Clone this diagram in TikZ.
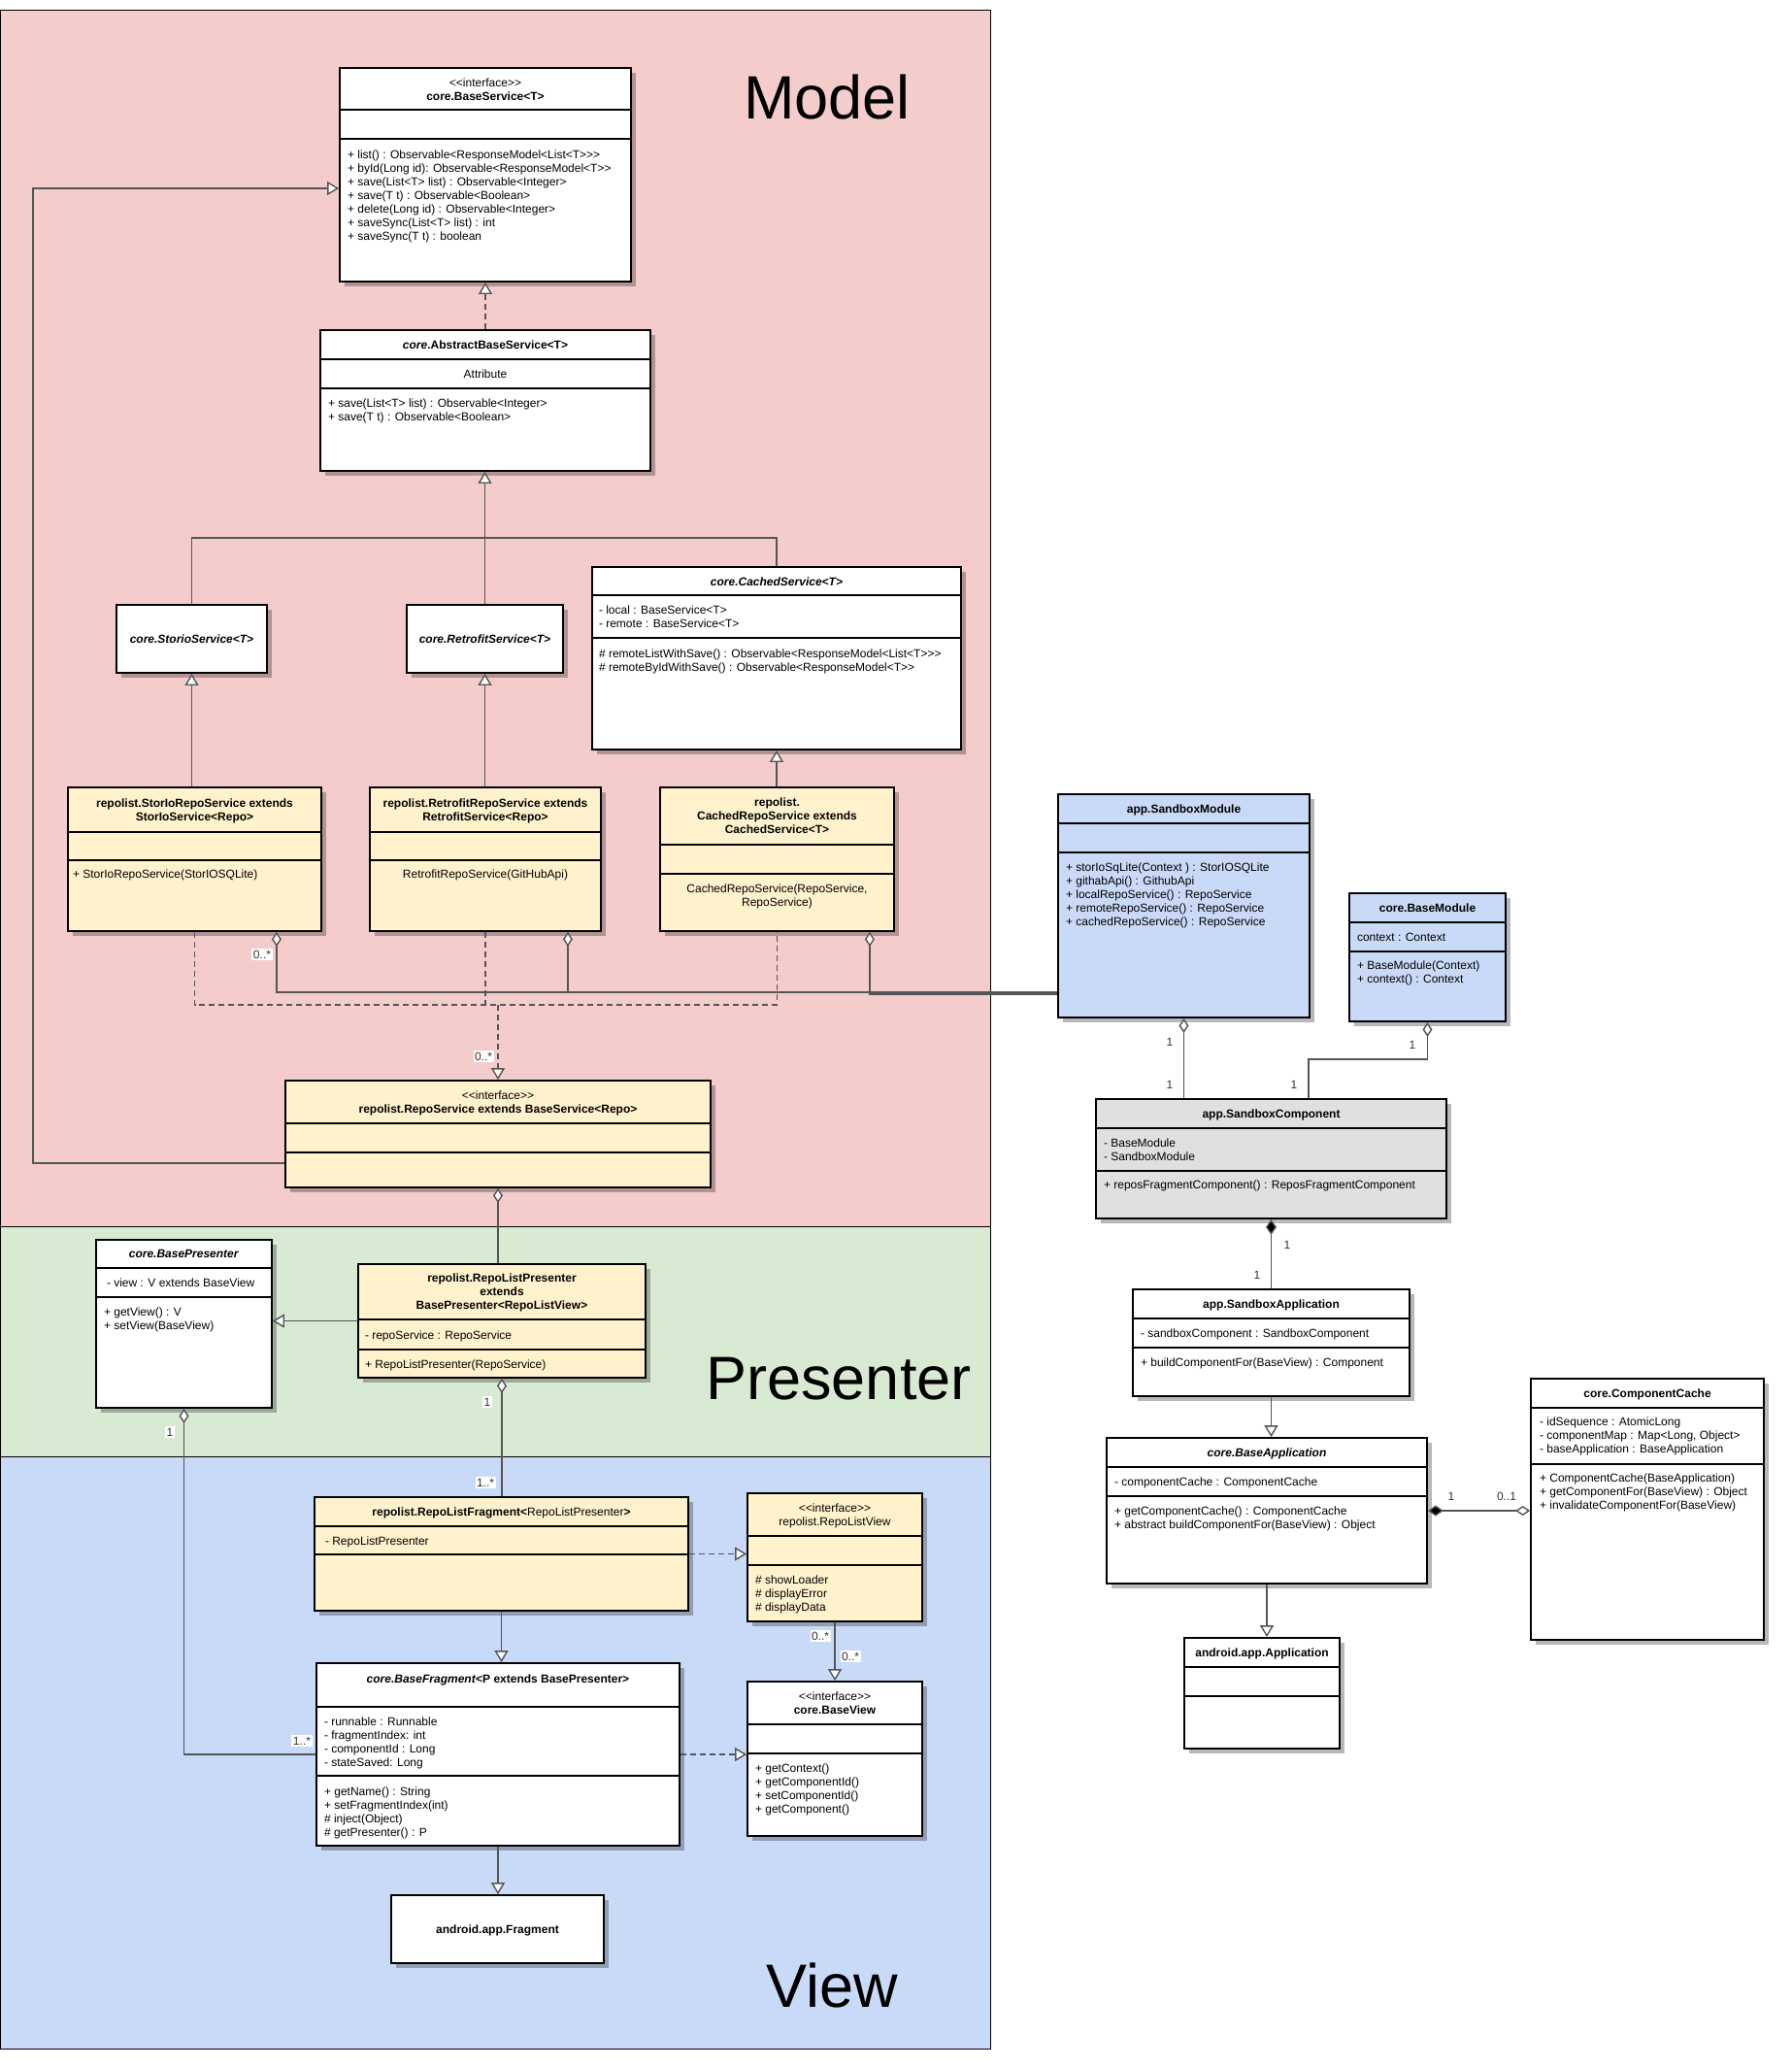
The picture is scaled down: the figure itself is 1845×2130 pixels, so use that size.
\documentclass[tikz,border=0pt]{standalone}
\usepackage{fontspec}
\setmainfont{Liberation Sans}
\usetikzlibrary{arrows.meta}
\definecolor{pinkbg}{HTML}{F4CCCC}
\definecolor{greenbg}{HTML}{D9EAD3}
\definecolor{bluebg}{HTML}{C9DAF8}
\definecolor{yellowc}{HTML}{FFF2CC}
\definecolor{greyc}{HTML}{E0E0E0}
\definecolor{linec}{HTML}{555555}
\definecolor{multc}{HTML}{333333}
\newcommand\clines[1]{\vtop{\baselineskip=14pt\lineskiplimit=-20pt\lineskip=0pt\halign{\hfil##\hfil\cr#1\crcr}}}
\newcommand\llines[1]{\vtop{\baselineskip=14pt\lineskiplimit=-20pt\lineskip=0pt\halign{##\hfil\cr#1\crcr}}}
\newcommand\umlbox[6]{%
  \fill[shadowc] ({#2+5},{#3+5}) rectangle ({#4+5},{#5+5});
  \node[cbox, fill=#6, minimum width={#4-#2}, minimum height={#5-#3}] (#1) at ({(#2+#4)/2},{(#3+#5)/2}) {};}
\newcommand\umlseps[3]{\foreach \s in {#3} {\draw[sepline] (#1,\s) -- (#2,\s);}}
\newcommand\uctext[4]{\node[txt, anchor=base] (#1) at (#2,{#3+4.3}) {\clines{#4}};}
\newcommand\ultext[4]{\node[txt, anchor=base west] (#1) at (#2,{#3+4.3}) {\llines{#4}};}
\tikzset{
  shadowc/.style={fill=black, fill opacity=0.28},
  cbox/.style={draw=black, line width=1.8pt, inner sep=0pt},
  sepline/.style={draw=black, line width=1.8pt},
  txt/.style={font=\fontsize{12}{14}\selectfont, inner sep=0pt, outer sep=0pt},
  biglbl/.style={font=\fontsize{63}{70}\selectfont, inner sep=0pt},
  regline/.style={draw=black, line width=1pt},
  conn/.style={draw=linec, line width=1.4pt},
  gen/.style={conn, -{Triangle[fill=white, length=12pt, width=14pt]}},
  realiz/.style={conn, dash pattern=on 6pt off 4pt},
  realarr/.style={realiz, -{Triangle[fill=white, length=12pt, width=14pt]}},
  agg/.style={conn, {Diamond[fill=white, length=15pt, width=10pt]}-},
  comp/.style={conn, {Diamond[fill=black, length=16pt, width=11pt]}-},
  compagg/.style={conn, {Diamond[fill=black, length=16pt, width=11pt]}-{Diamond[fill=white, length=15pt, width=10pt]}},
  mult/.style={font=\fontsize{12}{14}\selectfont, text=multc, inner sep=1.5pt},
  multw/.style={mult, fill=white}
}
\begin{document}
\begin{tikzpicture}[x=1pt,y=-1pt]
\useasboundingbox (0,0) rectangle (1845,2130);
\fill[white] (0,0) rectangle (1845,2130);
% regions
\fill[pinkbg] (0,11) rectangle (1020,1263);
\fill[greenbg] (0,1263) rectangle (1020,1500);
\fill[bluebg] (0,1500) rectangle (1020,2110);
\draw[regline] (0.5,11) rectangle (1020,2110);
\draw[regline] (0,1263) -- (1020,1263);
\draw[regline] (0,1500) -- (1020,1500);
\node[biglbl] (lblmodel) at (852,100) {Model};
\node[biglbl] (lblpres) at (864,1420) {Presenter};
\node[biglbl] (lblview) at (857,2045) {View};

% ---------- Model ----------
\umlbox{bs}{350}{70}{650}{290}{white}
\umlseps{350}{650}{113,143}
\uctext{bs-t}{500}{85}{<{}<interface>{}>\cr \textbf{core.BaseService<T>}}
\ultext{bs-o}{358}{159}{+ list() : Observable<ResponseModel<List<T>{}>{}>\cr + byId(Long id): Observable<ResponseModel<T>{}>\cr + save(List<T> list) : Observable<Integer>\cr + save(T t) : Observable<Boolean>\cr + delete(Long id) : Observable<Integer>\cr + saveSync(List<T> list) : int\cr + saveSync(T t) : boolean}

\umlbox{abs}{330}{340}{670}{485}{white}
\umlseps{330}{670}{370,400}
\uctext{abs-t}{500}{355}{\textbf{\textit{core}.AbstractBaseService<T>}}
\uctext{abs-a}{500}{385}{Attribute}
\ultext{abs-o}{338}{415}{+ save(List<T> list) : Observable<Integer>\cr + save(T t) : Observable<Boolean>}

\umlbox{sio}{120}{623}{275}{693}{white}
\uctext{sio-t}{197.5}{658}{\textbf{\textit{core.StorioService<T>}}}
\umlbox{rs}{419}{623}{580}{693}{white}
\uctext{rs-t}{499.5}{658}{\textbf{\textit{core.RetrofitService<T>}}}

\umlbox{cs}{610}{584}{990}{772}{white}
\umlseps{610}{990}{613,657}
\uctext{cs-t}{800}{599}{\textbf{\textit{core.CachedService<T>}}}
\ultext{cs-a}{617}{628}{- local : BaseService<T>\cr - remote : BaseService<T>}
\ultext{cs-o}{617}{673}{\# remoteListWithSave() : Observable<ResponseModel<List<T>{}>{}>\cr \# remoteByIdWithSave() : Observable<ResponseModel<T>{}>}

\umlbox{sirepo}{70}{811}{331}{959}{yellowc}
\umlseps{70}{331}{857,886}
\uctext{sirepo-t}{200.5}{827}{\textbf{repolist.StorIoRepoService extends}\cr \textbf{StorIoService<Repo>}}
\ultext{sirepo-o}{75}{900}{+ StorIoRepoService(StorIOSQLite)}

\umlbox{rrepo}{381}{811}{619}{959}{yellowc}
\umlseps{381}{619}{857,886}
\uctext{rrepo-t}{500}{827}{\textbf{repolist.RetrofitRepoService extends}\cr \textbf{RetrofitService<Repo>}}
\uctext{rrepo-o}{500}{900}{RetrofitRepoService(GitHubApi)}

\umlbox{crepo}{680}{811}{921}{959}{yellowc}
\umlseps{680}{921}{870,900}
\uctext{crepo-t}{800.5}{826}{\textbf{repolist.}\cr \textbf{CachedRepoService extends}\cr \textbf{CachedService<T>}}
\uctext{crepo-o}{800.5}{915}{CachedRepoService(RepoService,\cr RepoService)}

\umlbox{rsvc}{294}{1113}{732}{1223}{yellowc}
\umlseps{294}{732}{1157,1187}
\uctext{rsvc-t}{513}{1128}{<{}<interface>{}>\cr \textbf{repolist.RepoService extends BaseService<Repo>}}

% ---------- Presenter ----------
\umlbox{bp}{99}{1277}{280}{1450}{white}
\umlseps{99}{280}{1306,1336}
\uctext{bp-t}{189.5}{1291}{\textbf{\textit{core.BasePresenter}}}
\ultext{bp-a}{110}{1321}{- view : V extends BaseView}
\ultext{bp-o}{107}{1351}{+ getView() : V\cr + setView(BaseView)}

\umlbox{rlp}{369}{1302}{665}{1419}{yellowc}
\umlseps{369}{665}{1359,1390}
\uctext{rlp-t}{517}{1316}{\textbf{repolist.RepoListPresenter}\cr \textbf{extends}\cr \textbf{BasePresenter<RepoListView>}}
\ultext{rlp-a}{376}{1375}{- repoService : RepoService}
\ultext{rlp-o}{376}{1405}{+ RepoListPresenter(RepoService)}

% ---------- View ----------
\umlbox{rlf}{324}{1542}{709}{1659}{yellowc}
\umlseps{324}{709}{1572,1601}
\uctext{rlf-t}{516.5}{1557}{\textbf{repolist.RepoListFragment<}RepoListPresenter\textbf{>}}
\ultext{rlf-a}{335}{1587}{- RepoListPresenter}

\umlbox{rlv}{770}{1538}{950}{1670}{yellowc}
\umlseps{770}{950}{1582,1612}
\uctext{rlv-t}{860}{1553}{<{}<interface>{}>\cr repolist.RepoListView}
\ultext{rlv-o}{778}{1627}{\# showLoader\cr \# displayError\cr \# displayData}

\umlbox{bf}{326}{1713}{700}{1901}{white}
\umlseps{326}{700}{1758,1829}
\uctext{bf-t}{513}{1729}{\textbf{\textit{core.BaseFragment}<P extends BasePresenter>}}
\ultext{bf-a}{334}{1773}{- runnable : Runnable\cr - fragmentIndex: int\cr - componentId : Long\cr - stateSaved: Long}
\ultext{bf-o}{334}{1845}{+ getName() : String\cr + setFragmentIndex(int)\cr \# inject(Object)\cr \# getPresenter() : P}

\umlbox{bv}{770}{1732}{950}{1891}{white}
\umlseps{770}{950}{1776,1806}
\uctext{bv-t}{860}{1747}{<{}<interface>{}>\cr \textbf{core.BaseView}}
\ultext{bv-o}{778}{1821}{+ getContext()\cr + getComponentId()\cr + setComponentId()\cr + getComponent()}

\umlbox{af}{403}{1952}{622}{2022}{white}
\uctext{af-t}{512.5}{1987}{\textbf{android.app.Fragment}}

% ---------- Right side ----------
\umlbox{sm}{1090}{818}{1349}{1048}{bluebg}
\umlseps{1090}{1349}{848,878}
\uctext{sm-t}{1219.5}{833}{\textbf{app.SandboxModule}}
\ultext{sm-o}{1098}{893}{+ storIoSqLite(Context ) : StorIOSQLite\cr + githabApi() : GithubApi\cr + localRepoService() : RepoService\cr + remoteRepoService() : RepoService\cr + cachedRepoService() : RepoService}

\umlbox{bm}{1390}{920}{1551}{1052}{bluebg}
\umlseps{1390}{1551}{950,980}
\uctext{bm-t}{1470.5}{935}{\textbf{core.BaseModule}}
\ultext{bm-a}{1398}{965}{context : Context}
\ultext{bm-o}{1398}{994}{+ BaseModule(Context)\cr + context() : Context}

\umlbox{sc}{1129}{1132}{1490}{1255}{greyc}
\umlseps{1129}{1490}{1162,1206}
\uctext{sc-t}{1309.5}{1147}{\textbf{app.SandboxComponent}}
\ultext{sc-a}{1137}{1177}{- BaseModule\cr - SandboxModule}
\ultext{sc-o}{1137}{1220}{+ reposFragmentComponent() : ReposFragmentComponent}

\umlbox{sa}{1167}{1328}{1452}{1438}{white}
\umlseps{1167}{1452}{1358,1388}
\uctext{sa-t}{1309.5}{1343}{\textbf{app.SandboxApplication}}
\ultext{sa-a}{1175}{1373}{- sandboxComponent : SandboxComponent}
\ultext{sa-o}{1175}{1403}{+ buildComponentFor(BaseView) : Component}

\umlbox{ba}{1140}{1481}{1470}{1631}{white}
\umlseps{1140}{1470}{1511,1541}
\uctext{ba-t}{1305}{1496}{\textbf{\textit{core.BaseApplication}}}
\ultext{ba-a}{1148}{1526}{- componentCache : ComponentCache}
\ultext{ba-o}{1148}{1556}{+ getComponentCache() : ComponentCache\cr + abstract buildComponentFor(BaseView) : Object}

\umlbox{cc}{1577}{1420}{1817}{1689}{white}
\umlseps{1577}{1817}{1450,1508}
\uctext{cc-t}{1697}{1435}{\textbf{core.ComponentCache}}
\ultext{cc-a}{1586}{1464}{- idSequence : AtomicLong\cr - componentMap : Map<Long, Object>\cr - baseApplication : BaseApplication}
\ultext{cc-o}{1586}{1522}{+ ComponentCache(BaseApplication)\cr + getComponentFor(BaseView) : Object\cr + invalidateComponentFor(BaseView)}

\umlbox{aa}{1220}{1687}{1380}{1801}{white}
\umlseps{1220}{1380}{1717,1747}
\uctext{aa-t}{1300}{1702}{\textbf{android.app.Application}}

% ---------- connectors ----------
\draw[realarr] (abs.north) -- (bs.south);
\coordinate (jn) at (500,554);
\draw[conn] (sio.north) |- (jn) -| (cs.north);
\draw[gen] (rs.north) -- (rs.north |- abs.south);
\draw[gen] (sirepo.north -| sio.south) -- (sio.south);
\draw[gen] (rrepo.north -| rs.south) -- (rs.south);
\draw[gen] (crepo.north -| cs.south) -- (cs.south);

\coordinate (rj) at (513,1035);
\draw[realiz] (sirepo.south) |- (rj) -| (crepo.south);
\draw[realiz] (rrepo.south) -- (rrepo.south |- rj);
\draw[realarr] (rj) -- (rsvc.north);

\draw[agg] ([xshift=-47pt]sirepo.south east) |- ([yshift=-89pt]sm.west);
\draw[agg] ([xshift=-35pt]rrepo.south east) |- ([yshift=-89pt]sm.west);
\draw[agg] ([xshift=-26pt]crepo.south east) |- ([yshift=-91pt]sm.west);

\coordinate (gl) at (34,194);
\draw[gen] ([yshift=-30pt]rsvc.west) -| (gl) -- (bs.west |- gl);
\draw[agg] (rsvc.south) -- (rsvc.south |- rlp.north);

\draw[gen] (rlp.west) -- (rlp.west -| bp.east);
\draw[agg] (bp.south) |- (bf.west);
\draw[agg] (rlp.south) -- (rlp.south |- rlf.north);

\draw[realarr] (rlf.east) -- (rlf.east -| rlv.west);
\draw[gen] (rlf.south) -- (rlf.south |- bf.north);
\draw[gen] (rlv.south) -- (rlv.south |- bv.north);
\draw[realarr] (bf.east) -- (bf.east -| bv.west);
\draw[gen] (bf.south) -- (bf.south |- af.north);

\draw[agg] (sm.south) -- (sm.south |- sc.north);
\coordinate (bj) at (1348,1091);
\draw[agg] (bm.south) |- (bj) -- (bj |- sc.north);
\draw[comp] (sc.south) -- (sc.south |- sa.north);
\draw[gen] (sa.south) -- (sa.south |- ba.north);
\draw[gen] (ba.south) -- (ba.south |- aa.north);
\draw[compagg] (ba.east) -- (ba.east -| cc.west);

% ---------- multiplicities ----------
\node[multw] (m1) at (270,983) {0..*};
\node[multw] (m2) at (498,1088) {0..*};
\node[multw] (m3) at (502,1444) {1};
\node[multw] (m4) at (500,1527) {1..*};
\node[multw] (m5) at (175,1475) {1};
\node[multw] (m6) at (311,1793) {1..*};
\node[multw] (m7) at (845,1685) {0..*};
\node[multw] (m8) at (876,1706) {0..*};
\node[mult] (m9) at (1205,1073) {1};
\node[mult] (m10) at (1205,1117) {1};
\node[mult] (m11) at (1455,1076) {1};
\node[mult] (m12) at (1333,1117) {1};
\node[mult] (m13) at (1326,1282) {1};
\node[mult] (m14) at (1295,1313) {1};
\node[mult] (m15) at (1495,1541) {1};
\node[mult] (m16) at (1552,1541) {0..1};
\end{tikzpicture}
\end{document}
